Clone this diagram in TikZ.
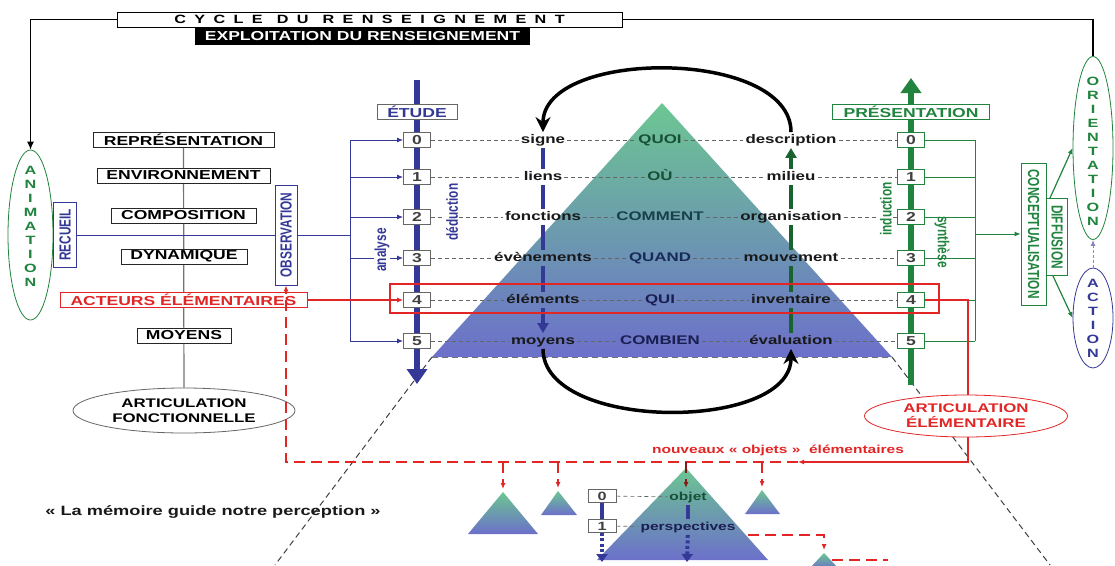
\documentclass[tikz,border=0pt]{standalone}
\usepackage{fontspec}
\setmainfont{Liberation Sans}[FakeStretch=1.35]
\newfontfamily\rotfont{Liberation Sans}[FakeStretch=0.74]
\usetikzlibrary{arrows.meta,shapes.geometric,calc}
\pgfdeclarelayer{bgtwo}
\pgfdeclarelayer{bgone}
\pgfsetlayers{bgtwo,bgone,main}
\definecolor{navy}{RGB}{52,56,150}
\definecolor{grn}{RGB}{32,132,62}
\definecolor{rd}{RGB}{226,38,38}
\definecolor{ptop}{RGB}{108,198,146}
\definecolor{pbot}{RGB}{108,112,202}
\definecolor{qa}{RGB}{24,80,52}
\definecolor{qb}{RGB}{24,64,72}
\definecolor{qc}{RGB}{24,42,88}
\definecolor{qd}{RGB}{26,30,80}
\tikzset{
 fs/.style={font=\fontsize{#1}{#1}\selectfont\bfseries},
 fsl/.style={font=\fontsize{#1}{15}\selectfont\bfseries},
 rfs/.style={font=\rotfont\fontsize{#1}{#1}\selectfont\bfseries},
 lbox/.style={draw=black!85, line width=0.8, fill=white, inner sep=0, minimum height=15, fs=13},
 nbox/.style={draw=black!60, line width=0.8, fill=white, text=black!75, inner sep=0, minimum width=27, minimum height=15, fs=13},
 gbox/.style={nbox, draw=grn},
 lab/.style={fs=12.5, inner sep=2pt, text height=9pt, text depth=2.5pt, text=black!90},
 dl/.style={black!60, line width=0.6, dash pattern=on 4pt off 3pt},
 vline/.style={line width=3.5},
 bkt/.style={line width=1},
 rdash/.style={rd, line width=1.6, dash pattern=on 11pt off 6pt},
 tri/.style={top color=ptop, bottom color=pbot},
 vstack/.style={align=center, font=\fontsize{12}{14}\selectfont\bfseries, inner sep=0},
 vbox/.style={rotate=#1, draw, line width=0.8, fill=white, inner sep=0, rfs=16},
 rlab/.style={rotate=#1, rfs=16, inner sep=1pt},
 fat/.style={line width=6, -{Triangle[length=15pt,width=20pt]}},
 big/.style={line width=3.5, -{Stealth[length=15pt,width=15pt]}},
 bigdash/.style={black!75, line width=1, dash pattern=on 6pt off 4pt},
 smalltip/.style={-{Latex[length=6pt,width=5pt]}},
}
\begin{document}
\begin{tikzpicture}[x=1pt,y=-1pt]
\useasboundingbox (0,0) rectangle (1115,565);
% ---------- coordinates ----------
\coordinate (apex) at (662,103);
\coordinate (pl) at (432,357);
\coordinate (pr) at (892,357);
\coordinate (plb) at (275,565);
\coordinate (prb) at (1050,565);
\coordinate (etop) at (417,80);
\coordinate (ebot) at (417,384);
\coordinate (ptopc) at (911,78);
\coordinate (pbotc) at (911,385);
\coordinate (bkx) at (350,0);
\coordinate (gkx) at (975,0);
\coordinate (rc) at (968,462);
\coordinate (nw) at (798,462);
\coordinate (da) at (1050,198);
\coordinate (db) at (1053,276);
\coordinate (t1) at (503,492);
\coordinate (t2) at (558,491);
\coordinate (t3) at (762,490);
\coordinate (t4) at (686,468);
\coordinate (t4e) at (686,488);
\coordinate (t5) at (824,553);
\coordinate (t4r) at (748,535);
\coordinate (t5r) at (832,560);
\coordinate (t5e) at (888,560);
\coordinate (s1e) at (602,562);
\coordinate (pe) at (687,562);
% ---------- nodes ----------
\node[draw, line width=0.9, fill=white, minimum width=505, minimum height=15, inner sep=0,
      font=\fontsize{12}{12}\selectfont\bfseries\addfontfeature{LetterSpace=70}] (title) at (369.5,19.5)
      {CYCLE\hspace{14pt}DU\hspace{14pt}RENSEIGNEMENT};
\node[fill=black, text=white, minimum width=335, minimum height=17, inner sep=0, fs=13] (expl) at (362.5,36.5) {EXPLOITATION DU RENSEIGNEMENT};

\node[ellipse, draw=grn, line width=0.8, minimum width=45, minimum height=170, inner sep=0] (anim) at (30.5,235) {};
\node[vstack, text=grn] (animt) at (30.5,226) {A\\N\\I\\M\\A\\T\\I\\O\\N};
\node[ellipse, draw=grn, line width=0.8, minimum width=40, minimum height=183, inner sep=0] (orient) at (1093,148) {};
\node[vstack, text=grn] (orientt) at (1093,151) {O\\R\\I\\E\\N\\T\\A\\T\\I\\O\\N};
\node[ellipse, draw=navy, line width=0.8, minimum width=40, minimum height=100, inner sep=0] (action) at (1093,318) {};
\node[vstack, text=navy] (actiont) at (1093,318) {A\\C\\T\\I\\O\\N};

\node[vbox=90, draw=navy, text=navy, minimum width=65, minimum height=23] (recueil) at (65,235) {RECUEIL};
\node[vbox=90, draw=navy, text=navy, minimum width=100, minimum height=22] (obs) at (286,235) {OBSERVATION};

\node[lbox, minimum width=181] (rep) at (183.5,139.5) {REPRÉSENTATION};
\node[lbox, minimum width=173] (env) at (183.5,175.5) {ENVIRONNEMENT};
\node[lbox, minimum width=145] (comp) at (183.5,215.5) {COMPOSITION};
\node[lbox, minimum width=126] (dyn) at (184,256.5) {DYNAMIQUE};
\node[lbox, draw=rd, text=rd, minimum width=247] (act) at (183.5,300) {ACTEURS ÉLÉMENTAIRES};
\node[lbox, minimum width=94] (moy) at (184,335.5) {MOYENS};
\node[ellipse, draw=black!60, line width=0.8, fill=white, minimum width=222, minimum height=45, inner sep=0, align=center, fsl=12.5] (artf) at (184,410.5) {ARTICULATION\\FONCTIONNELLE};

\node[nbox, text=navy, minimum width=80] (etude) at (417,112) {ÉTUDE};
\node[gbox, text=grn, minimum width=157] (pres) at (911,111.5) {PRÉSENTATION};

\foreach \i/\y/\la/\lb/\lc/\mc in {0/140/signe/QUOI/description/qa, 1/177/liens/OÙ/milieu/qa, 2/217/fonctions/COMMENT/organisation/qb, 3/258/évènements/QUAND/mouvement/qc, 4/300/éléments/QUI/inventaire/qd, 5/341/moyens/COMBIEN/évaluation/qd}{
  \node[nbox] (b\i) at (417,\y) {\i};
  \node[lab] (l\i) at (543,\y) {\la};
  \node[lab, text=\mc] (m\i) at (660,\y) {\lb};
  \node[lab] (r\i) at (791,\y) {\lc};
  \node[gbox] (rb\i) at (911,\y) {\i};
}

\node[rlab=90, text=navy, fill=white] (anal) at (382,250) {analyse};
\node[rlab=90, text=navy, fill=white] (ded) at (452,212) {déduction};
\node[rlab=90, text=grn, fill=white] (ind) at (886,209) {induction};
\node[rlab=-90, text=grn] (syn) at (942,242) {synthèse};

\node[vbox=-90, draw=grn, text=grn, minimum width=142, minimum height=25] (concept) at (1033.5,234) {CONCEPTUALISATION};
\node[vbox=-90, draw=grn, text=grn, minimum width=77, minimum height=21] (diff) at (1057,237) {DIFFUSION};
\node[ellipse, draw=rd, line width=0.8, fill=white, text=rd, minimum width=203, minimum height=42, inner sep=0, align=center, fsl=12.5] (arte) at (966,416) {ARTICULATION\\ÉLÉMENTAIRE};

\node[fs=11.5, text=rd] (nouv) at (778,450) {nouveaux « objets »\ \ élémentaires};
\node[fs=13.5, text=black!90] (mem) at (213,512) {« La mémoire guide notre perception »};
\node[nbox, minimum width=28, minimum height=13, fs=12] (s0) at (602,496) {0};
\node[nbox, minimum width=28, minimum height=13, fs=12] (s1) at (602,526) {1};
\node[lab, fs=11.5, text=qa] (obj) at (688,497) {objet};
\node[lab, fs=11.5, text=qd] (persp) at (688,527) {perspectives};

% ---------- lowest layer ----------
\begin{pgfonlayer}{bgtwo}
  \fill[white] (0,0) rectangle (1115,565);
  \shade[tri] (apex) -- (pl) -- (pr) -- cycle;
  \shade[tri] (t1) -- (468,534) -- (538,534) -- cycle;
  \shade[tri] (t2) -- (541,515) -- (577,515) -- cycle;
  \shade[tri] (t3) -- (745,514) -- (780,514) -- cycle;
  \shade[tri] (t4) -- (597,560) -- (768,560) -- cycle;
  \shade[tri] (t5) -- (809,569) -- (839,569) -- cycle;
  \draw[bigdash, black!55] (pl) -- (pr);
  \draw[bigdash] (pl) -- (plb);
  \draw[bigdash] (pr) -- (prb);
\end{pgfonlayer}

% ---------- connectors behind nodes ----------
\begin{pgfonlayer}{bgone}
  \draw[line width=1.2, -{Latex[length=8pt,width=7pt]}] (title.west) -| (anim.north);
  \draw[line width=1.2] (title.east) -| (orient.north);
  \draw[black!55, line width=1.2] (rep) -- (artf);
  \draw[navy, bkt] (recueil) -- (obs);
  \draw[navy, bkt] (obs) -- (obs -| bkx);
  \draw[navy, bkt] (b0 -| bkx) -- (b5 -| bkx);
  \foreach \i in {0,1,2,3,5} \draw[navy, bkt, smalltip] (b\i -| bkx) -- (b\i);
  \draw[rd, line width=1.2, smalltip] (act) -- (b4);
  \draw[navy, fat] (etop) -- (ebot);
  \draw[grn, fat] (pbotc) -- (ptopc);
  \foreach \i in {0,...,5}{
    \draw[dl] (b\i) -- (l\i);
    \draw[dl] (l\i) -- (m\i);
    \draw[dl] (m\i) -- (r\i);
    \draw[dl] (r\i) -- (rb\i);
  }
  \foreach \i/\j in {0/1,1/2,2/3,3/4} \draw[navy, vline] (l\i) -- (l\j);
  \draw[navy, vline, -{Triangle[length=10pt,width=11pt]}] (l4) -- (l5);
  \foreach \i/\j in {5/4,4/3,3/2,2/1} \draw[grn!75!black, vline] (r\i) -- (r\j);
  \draw[grn!75!black, vline, -{Triangle[length=10pt,width=11pt]}] (r1) -- (r0);
  \draw[grn, bkt] (rb0 -| gkx) -- (rb5 -| gkx);
  \foreach \i in {0,...,5} \draw[grn, bkt] (rb\i) -- (rb\i -| gkx);
  \draw[grn, bkt, smalltip] (concept -| gkx) -- (concept);
  \draw[grn, line width=1.2, smalltip] (da) -- (orient.west);
  \draw[grn, line width=1.2, smalltip] (db) -- (action.west);
  \draw[rd, line width=1.2, smalltip] (rb4.east) -| (rc) -- (nw);
  \draw[dl] (s0) -- (obj);
  \draw[dl] (s1) -- (persp);
  \draw[navy, line width=4] (s0) -- (s1);
  \draw[navy, line width=4] (obj) -- (persp);
  \draw[navy, line width=4, dash pattern=on 3pt off 2.5pt, -{Triangle[length=8pt,width=11pt]}] (s1) -- (s1e);
  \draw[navy, line width=4, dash pattern=on 3pt off 2.5pt, -{Triangle[length=8pt,width=11pt]}] (persp) -- (pe);
\end{pgfonlayer}

% ---------- on top ----------
\draw[rd, line width=1.2] (390,284) rectangle (939,313);
\draw[rdash, smalltip] (nw) -| (obs.west);
\draw[rdash, smalltip, shorten >=3pt] (t1 |- nw) -- (t1);
\draw[rdash, smalltip, shorten >=3pt] (t2 |- nw) -- (t2);
\draw[rdash, smalltip, shorten >=3pt] (t3 |- nw) -- (t3);
\draw[rdash, draw=rd!60!black, smalltip] (t4 |- nw) -- (t4e);
\draw[rdash, smalltip, shorten >=3pt] (t4r) -| (t5);
\draw[rdash] (t5r) -- (t5e);
\draw[big] (r0.north) .. controls (791,48) and (543,48) .. (l0.north);
\draw[big] (l5.south) .. controls (543,432) and (791,432) .. (r5.south);
\draw[navy!60, line width=1, dash pattern=on 3pt off 2pt, smalltip] (action) -- (orient);
\end{tikzpicture}
\end{document}
